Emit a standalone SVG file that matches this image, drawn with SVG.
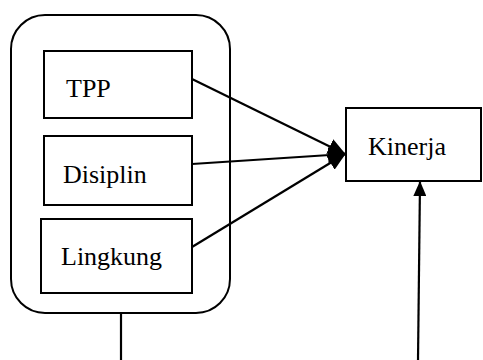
<svg xmlns="http://www.w3.org/2000/svg" width="483" height="360" viewBox="0 0 483 360">
<style>
.box{fill:#fff;stroke:#000;stroke-width:2}
.outer{fill:none;stroke:#000;stroke-width:2}
.lbl{font-family:"Liberation Serif","Times New Roman",serif;font-size:26px;fill:#000}
.ln{stroke:#000;stroke-width:2.2;fill:none}
</style>
<defs>
<marker id="ah" viewBox="0 0 15 13" refX="14" refY="6.5" markerUnits="userSpaceOnUse" markerWidth="15" markerHeight="13" orient="auto">
<path d="M0,0 L15,6.5 L0,13 z" fill="#000"/>
</marker>
<marker id="ah2" viewBox="0 0 18 16" refX="17" refY="8" markerUnits="userSpaceOnUse" markerWidth="18" markerHeight="16" orient="auto">
<path d="M0,0 L18,8 L0,16 z" fill="#000"/>
</marker>
</defs>
<g id="group-outer">
<rect class="outer" x="11" y="15" width="219" height="298" rx="34" ry="34"/>
</g>
<g id="node-tpp">
<rect class="box" x="44" y="51" width="148" height="67"/>
<text class="lbl" x="66" y="97">TPP</text>
</g>
<g id="node-disiplin">
<rect class="box" x="44" y="136" width="148" height="69"/>
<text class="lbl" x="63" y="183">Disiplin</text>
</g>
<g id="node-lingkung">
<rect class="box" x="41" y="219" width="151" height="74"/>
<text class="lbl" x="61" y="265">Lingkung</text>
</g>
<g id="node-kinerja">
<rect class="box" x="346" y="108" width="135" height="73"/>
<text class="lbl" x="368" y="155">Kinerja</text>
</g>
<g id="connectors">
<line class="ln" x1="192" y1="79" x2="345" y2="154" marker-end="url(#ah2)"/>
<line class="ln" x1="192" y1="164" x2="345" y2="154" marker-end="url(#ah2)"/>
<line class="ln" x1="192" y1="247" x2="345" y2="154" marker-end="url(#ah2)"/>
<line class="ln" x1="121" y1="313" x2="121" y2="360"/>
<line class="ln" x1="418" y1="360" x2="420" y2="182" marker-end="url(#ah)"/>
</g>
</svg>
